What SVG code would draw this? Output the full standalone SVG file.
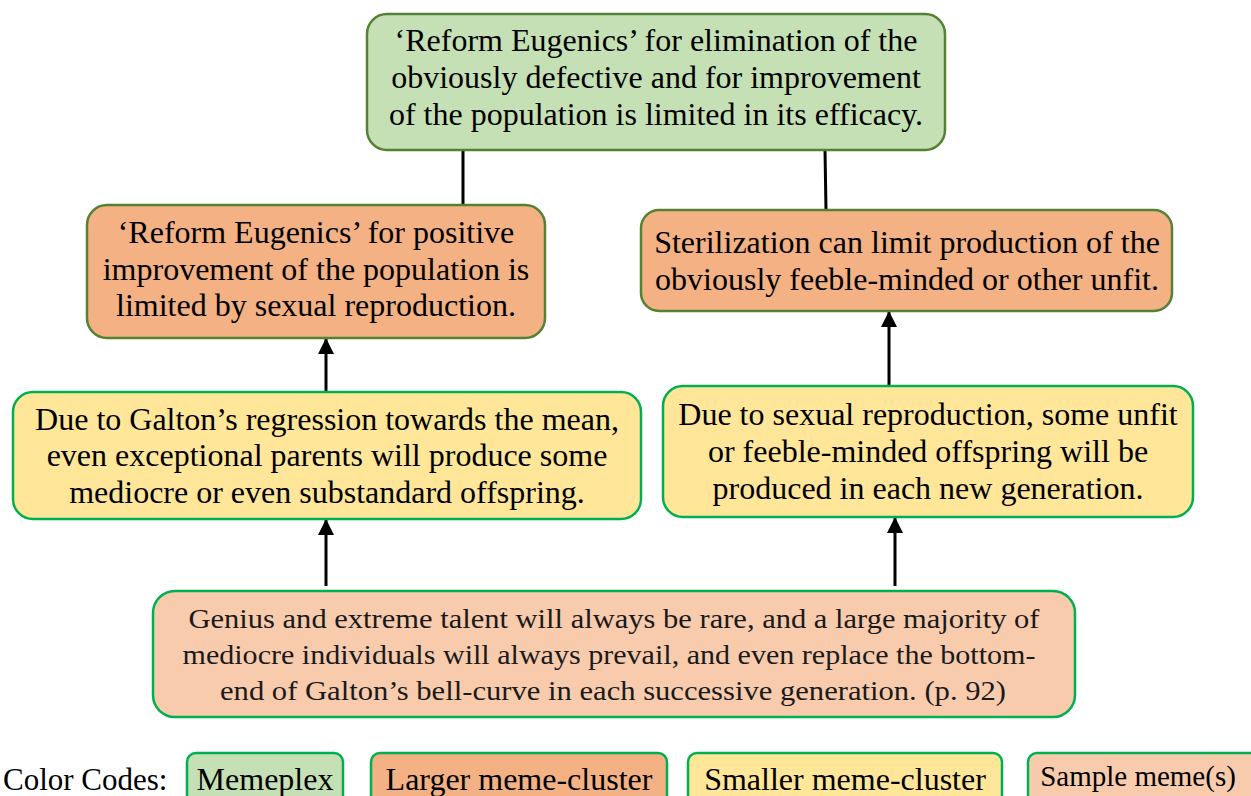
<svg xmlns="http://www.w3.org/2000/svg" width="1251" height="796" viewBox="0 0 1251 796">
  <style>
    .box { stroke-width: 2.5; }
    .memeplex { fill: #C5E0B4; stroke: #548235; }
    .larger { fill: #F4B183; stroke: #548235; }
    .smaller { fill: #FFE699; stroke: #00B050; }
    .sample { fill: #F8CBAD; stroke: #00B050; }
    .key { stroke: #00B050; stroke-width: 2.5; }
    .t { font-size: 32px; fill: #000; text-anchor: middle; }
    .g { font-size: 27px; fill: #1a1a1a; text-anchor: middle; }
    .link { stroke: #000; stroke-width: 3; fill: none; }
  </style>
  <defs>
    <marker id="arrow" markerUnits="userSpaceOnUse" markerWidth="16" markerHeight="16" viewBox="0 0 16 16" refX="15" refY="8" orient="auto">
      <path d="M0,0 L16,8 L0,16 Z" fill="#000"/>
    </marker>
  </defs>
  <rect width="1251" height="796" fill="#fff"/>

  <g id="connectors">
    <line class="link" x1="463" y1="150" x2="463" y2="205"/>
    <line class="link" x1="825" y1="150" x2="826" y2="210"/>
    <line class="link" x1="326" y1="392" x2="326" y2="339" marker-end="url(#arrow)"/>
    <line class="link" x1="889" y1="386" x2="889" y2="312" marker-end="url(#arrow)"/>
    <line class="link" x1="326" y1="586" x2="326" y2="520" marker-end="url(#arrow)"/>
    <line class="link" x1="895" y1="586" x2="895" y2="518" marker-end="url(#arrow)"/>
  </g>

  <g font-family="Liberation Serif, DejaVu Serif, serif">
  <g id="memeplex-node">
    <rect class="box memeplex" x="367" y="14" width="578" height="136" rx="20"/>
    <text class="t" x="656" y="51">‘Reform Eugenics’ for elimination of the</text>
    <text class="t" x="656" y="88">obviously defective and for improvement</text>
    <text class="t" x="656" y="125">of the population is limited in its efficacy.</text>
  </g>

  <g id="cluster-positive">
    <rect class="box larger" x="87" y="205" width="458" height="133" rx="20"/>
    <text class="t" x="316" y="243">‘Reform Eugenics’ for positive</text>
    <text class="t" x="316" y="280">improvement of the population is</text>
    <text class="t" x="316" y="316">limited by sexual reproduction.</text>
  </g>

  <g id="cluster-sterilization">
    <rect class="box larger" x="641" y="210" width="531" height="101" rx="18"/>
    <text class="t" x="907" y="253">Sterilization can limit production of the</text>
    <text class="t" x="907" y="290">obviously feeble-minded or other unfit.</text>
  </g>

  <g id="cluster-regression">
    <rect class="box smaller" x="13" y="392" width="628" height="127" rx="20"/>
    <text class="t" x="327" y="430">Due to Galton’s regression towards the mean,</text>
    <text class="t" x="327" y="466">even exceptional parents will produce some</text>
    <text class="t" x="327" y="503">mediocre or even substandard offspring.</text>
  </g>

  <g id="cluster-offspring">
    <rect class="box smaller" x="663" y="386" width="530" height="131" rx="20"/>
    <text class="t" x="928" y="425">Due to sexual reproduction, some unfit</text>
    <text class="t" x="928" y="462">or feeble-minded offspring will be</text>
    <text class="t" x="928" y="499">produced in each new generation.</text>
  </g>

  <g id="sample-meme">
    <rect class="box sample" x="153" y="591" width="922" height="126" rx="22"/>
    <text class="g" x="614" y="628" textLength="851" lengthAdjust="spacingAndGlyphs">Genius and extreme talent will always be rare, and a large majority of</text>
    <text class="g" x="609" y="664" textLength="853" lengthAdjust="spacingAndGlyphs">mediocre individuals will always prevail, and even replace the bottom-</text>
    <text class="g" x="613" y="700" textLength="786" lengthAdjust="spacingAndGlyphs">end of Galton’s bell-curve in each successive generation. (p. 92)</text>
  </g>

  <g id="legend">
    <text class="t" x="3" y="790" style="text-anchor:start;font-size:31px">Color Codes:</text>
    <rect class="key" x="187" y="753" width="156" height="60" rx="9" fill="#C5E0B4"/>
    <text class="t" x="265" y="790">Memeplex</text>
    <rect class="key" x="371" y="753" width="296" height="60" rx="9" fill="#F4B183"/>
    <text class="t" x="519" y="790">Larger meme-cluster</text>
    <rect class="key" x="688" y="753" width="314" height="60" rx="9" fill="#FFE699"/>
    <text class="t" x="845" y="790">Smaller meme-cluster</text>
    <rect class="key" x="1028" y="753" width="240" height="60" rx="9" fill="#F8CBAD"/>
    <text class="t" x="1138" y="786" style="font-size:29px">Sample meme(s)</text>
  </g>
  </g>
</svg>
